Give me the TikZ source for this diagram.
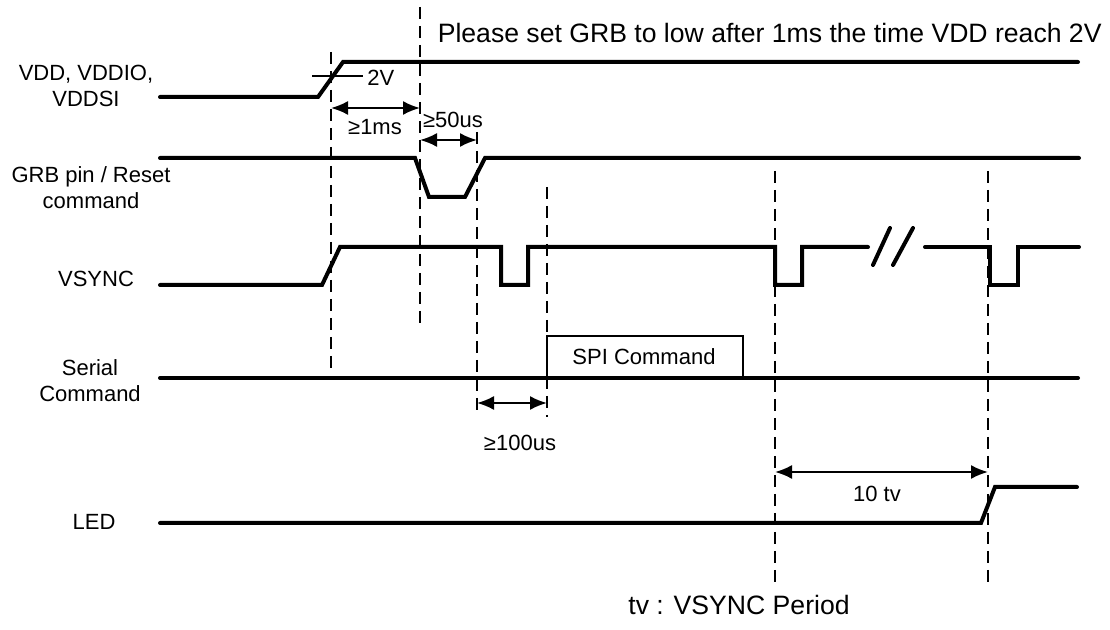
\documentclass[tikz,border=0pt]{standalone}
\usepackage{fontspec}
\setmainfont{Liberation Sans}
\usepackage{tikz}
\usetikzlibrary{arrows.meta,positioning,calc}

\begin{document}
\begin{tikzpicture}[
  x=0.5pt, y=-0.5pt,
  every node/.style={font=\fontsize{11}{13}\selectfont, inner sep=0pt},
  big/.style={font=\fontsize{13.3}{15}\selectfont},
  lbl/.style={align=center},
  sig/.style={line width=2pt, line cap=round},
  guide/.style={line width=0.65pt, dash pattern=on 6pt off 3.5pt},
  span/.style={{Latex[length=8.5pt,width=7pt]}-{Latex[length=8.5pt,width=7pt]}, line width=1pt}
]
\useasboundingbox (0,0) rectangle (1110,630);

\coordinate (atop) at (331,52);  \coordinate (abot) at (331,372);
\coordinate (btop) at (420,7);   \coordinate (bbot) at (420,323);
\coordinate (ctop) at (477,132); \coordinate (cbot) at (477,417);
\coordinate (dtop) at (547,187); \coordinate (dbot) at (547,417);
\coordinate (etop) at (775,171); \coordinate (ebot) at (775,587);
\coordinate (ftop) at (988,171); \coordinate (fbot) at (988,587);
\foreach \n in {a,b,c,d,e,f}
  \draw[guide] (\n top) -- (\n bot);

\node[lbl] (lVdd) at (86,85.5) {VDD, VDDIO,\\VDDSI};
\node[lbl] (lGrb) at (91,187.5) {GRB pin / Reset\\command};
\node[lbl] (lVsync) at (96,279) {VSYNC};
\node[lbl] (lSerial) at (90,380.5) {Serial\\Command};
\node[lbl] (lLed) at (94,522) {LED};
\node[big, anchor=base east] (note) at (1102,43)
  {Please set GRB to low after 1ms the time VDD reach 2V};
\node[big] (period) at (739,605) {tv : VSYNC Period};

\draw[sig] (160,97) -- (318,97) -- (343,62) -- (1078,62);
\draw[line width=1pt] (312,76) -- (363,76);
\node[anchor=west] (tTwoV) at (367,78) {2V};

\draw[sig] (160,158) -- (415,158) -- (429,197) -- (465,197) -- (485,158) -- (1079,158);

\draw[sig] (160,285) -- (322,285) -- (340,247) -- (501,247) -- (501,285)
  -- (528,285) -- (528,247) -- (775,247) -- (775,285) -- (802,285)
  -- (802,247) -- (868,247);
\draw[sig] (925,247) -- (990,247) -- (990,285) -- (1018,285) -- (1018,247) -- (1079,247);
\draw[sig] (873,265) -- (890,228);
\draw[sig] (893,265) -- (913,228);

\draw[sig] (160,378) -- (1078,378);
\draw[line width=0.6pt] (dbot |- 0,378) |- (743,336) -- (743,378);
\node (spi) at (644,357) {SPI Command};

\draw[sig] (160,523) -- (981,523) -- (995,487) -- (1077,487);

\draw[span] (atop |- 0,108) -- (btop |- 0,108);
\node (tOne) at (375,127) {≥1ms};
\draw[span] (btop |- 0,140) -- (ctop |- 0,140);
\node (tFifty) at (453,120) {≥50us};
\draw[span] (cbot |- 0,403) -- (dbot |- 0,403);
\node (tHundred) at (520,443) {≥100us};
\draw[span] (etop |- 0,472) -- (ftop |- 0,472);
\node (tTen) at (877,494) {10 tv};
\end{tikzpicture}
\end{document}
